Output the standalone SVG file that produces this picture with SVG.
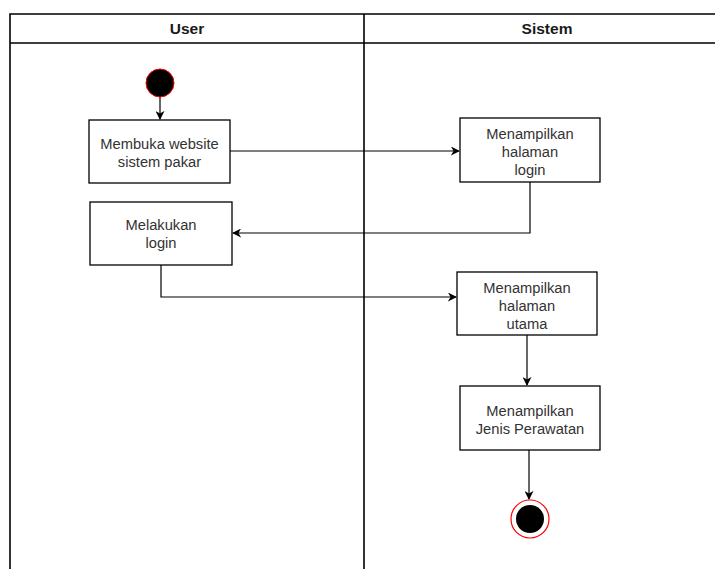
<svg xmlns="http://www.w3.org/2000/svg" width="715" height="569" viewBox="0 0 715 569">
<defs>
<style>
.lane{fill:none;stroke:#000;stroke-width:1.6}
.box{fill:#fff;stroke:#000;stroke-width:1.3}
.t{font-family:"Liberation Sans",Arial,sans-serif;font-size:14.7px;fill:#333;text-anchor:middle}
.h{font-family:"Liberation Sans",Arial,sans-serif;font-size:15.5px;font-weight:bold;fill:#1a1a1a;text-anchor:middle}
.c{fill:none;stroke:#000;stroke-width:1.2}
</style>
<marker id="arr" viewBox="0 0 10 10" refX="9" refY="5" markerWidth="9" markerHeight="9" markerUnits="userSpaceOnUse" orient="auto">
<path d="M0,0 L10,5 L0,10 L3,5 Z" fill="#000"/>
</marker>
</defs>
<rect width="715" height="569" fill="#fff"/>
<g id="pool">
<path class="lane" d="M10,569 V14 H716 M10,43 H716 M364,14 V569"/>
<text class="h" x="187" y="34">User</text>
<text class="h" x="547" y="34">Sistem</text>
</g>
<g id="connectors">
<path class="c" d="M160,97 V119" marker-end="url(#arr)"/>
<path class="c" d="M230,151 H459" marker-end="url(#arr)"/>
<path class="c" d="M530,182 V233 H233" marker-end="url(#arr)"/>
<path class="c" d="M161,265 V297 H456" marker-end="url(#arr)"/>
<path class="c" d="M527,335 V385" marker-end="url(#arr)"/>
<path class="c" d="M529,450 V499" marker-end="url(#arr)"/>
</g>
<g id="start">
<circle cx="160" cy="83" r="14" fill="#000" stroke="#f00" stroke-width="1"/>
</g>
<g id="n1">
<rect class="box" x="89" y="120" width="141" height="63"/>
<text class="t" x="159.5" y="148.5">Membuka website</text>
<text class="t" x="159.5" y="166.5">sistem pakar</text>
</g>
<g id="n2">
<rect class="box" x="460" y="118" width="140" height="64"/>
<text class="t" x="530" y="138.5">Menampilkan</text>
<text class="t" x="530" y="156.5">halaman</text>
<text class="t" x="530" y="174.5">login</text>
</g>
<g id="n3">
<rect class="box" x="90" y="202" width="142" height="63"/>
<text class="t" x="161" y="229.5">Melakukan</text>
<text class="t" x="161" y="247.5">login</text>
</g>
<g id="n4">
<rect class="box" x="457" y="272" width="140" height="63"/>
<text class="t" x="527" y="292.5">Menampilkan</text>
<text class="t" x="527" y="310.5">halaman</text>
<text class="t" x="527" y="328.5">utama</text>
</g>
<g id="n5">
<rect class="box" x="460" y="386" width="140" height="64"/>
<text class="t" x="530" y="416">Menampilkan</text>
<text class="t" x="530" y="434">Jenis Perawatan</text>
</g>
<g id="end">
<circle cx="530" cy="519" r="19" fill="#fff" stroke="#f00" stroke-width="1.2"/>
<circle cx="530" cy="519" r="14" fill="#000"/>
</g>
</svg>
